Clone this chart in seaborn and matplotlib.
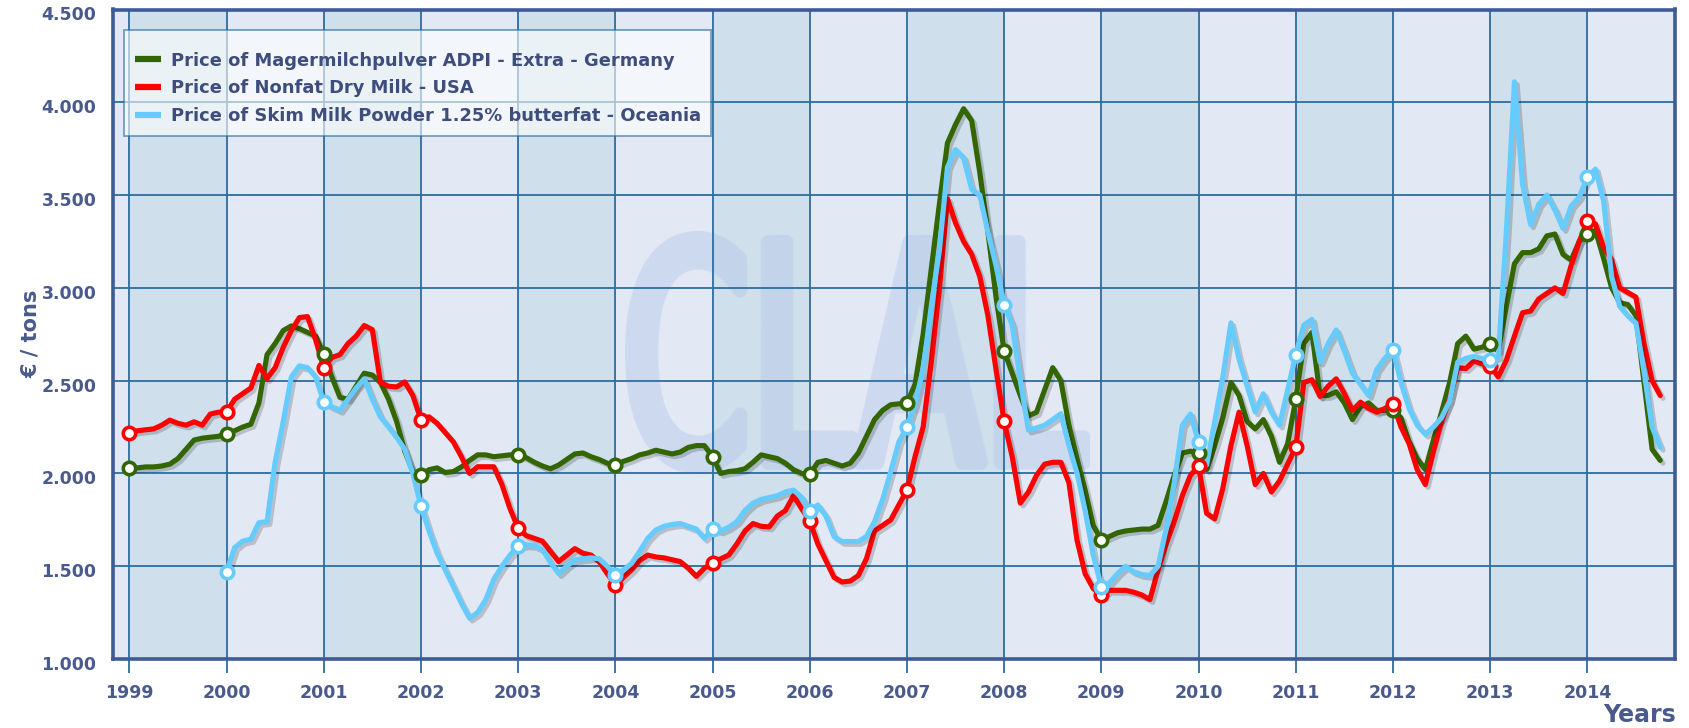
import numpy as np
import pandas as pd
import matplotlib
matplotlib.use("Agg")
import matplotlib.pyplot as plt
import matplotlib.patheffects as pe
from matplotlib.lines import Line2D
from matplotlib.textpath import TextPath
from matplotlib.patches import PathPatch
from matplotlib.font_manager import FontProperties
from matplotlib.transforms import Affine2D, ScaledTranslation
from matplotlib.colors import to_rgb
import seaborn as sns

# ---------------- data (monthly prices, EUR / ton) ----------------
series_names = [
    "Price of Magermilchpulver ADPI - Extra - Germany",
    "Price of Nonfat Dry Milk - USA",
    "Price of Skim Milk Powder 1.25% butterfat - Oceania",
]
series_colors = ["#336600", "#ff0000", "#66ccff"]

germany_start = 1999
germany = [
    2030, 2030, 2035, 2035, 2040, 2050, 2080, 2130, 2180, 2190, 2195, 2200,  # 1999
    2215, 2230, 2250, 2265, 2380, 2640, 2700, 2770, 2795, 2780, 2760, 2740,  # 2000
    2645, 2520, 2410, 2400, 2470, 2540, 2530, 2490, 2400, 2280, 2120, 2010,  # 2001
    1990, 2020, 2030, 2005, 2010, 2035, 2070, 2100, 2100, 2090, 2095, 2100,  # 2002
    2100, 2085, 2060, 2040, 2025, 2045, 2075, 2105, 2110, 2090, 2075, 2055,  # 2003
    2045, 2065, 2080, 2100, 2110, 2125, 2115, 2105, 2115, 2140, 2150, 2150,  # 2004
    2090, 2000, 2010, 2015, 2025, 2060, 2100, 2090, 2080, 2055, 2020, 2000,  # 2005
    1995, 2060, 2070, 2055, 2040, 2055, 2110, 2200, 2290, 2340, 2370, 2375,  # 2006
    2380, 2480, 2750, 3100, 3450, 3780, 3880, 3965, 3900, 3620, 3300, 2950,  # 2007
    2660, 2540, 2420, 2310, 2330, 2450, 2570, 2500, 2260, 2080, 1910, 1720,  # 2008
    1640, 1660, 1680, 1690, 1695, 1700, 1700, 1720, 1850, 1990, 2110, 2120,  # 2009
    2110, 2020, 2150, 2300, 2490, 2420, 2280, 2240, 2290, 2200, 2060, 2160,  # 2010
    2400, 2700, 2760, 2420, 2420, 2440, 2380, 2290, 2360, 2380, 2340, 2340,  # 2011
    2340, 2300, 2170, 2080, 2020, 2180, 2330, 2490, 2700, 2740, 2670, 2680,  # 2012
    2700, 2660, 2900, 3130, 3190, 3190, 3210, 3280, 3290, 3180, 3150, 3250,  # 2013
    3290, 3310, 3160, 3000, 2920, 2910, 2850, 2490, 2130, 2070,              # 2014
]

usa_start = 1999
usa = [
    2220, 2230, 2235, 2240, 2260, 2287, 2270, 2260, 2278, 2260, 2320, 2330,  # 1999
    2330, 2400, 2430, 2460, 2582, 2511, 2570, 2680, 2770, 2840, 2845, 2720,  # 2000
    2570, 2625, 2640, 2700, 2740, 2797, 2775, 2490, 2470, 2466, 2493, 2420,  # 2001
    2290, 2305, 2270, 2220, 2170, 2090, 2000, 2036, 2036, 2036, 1940, 1810,  # 2002
    1705, 1665, 1650, 1635, 1580, 1525, 1560, 1595, 1570, 1560, 1525, 1460,  # 2003
    1400, 1440, 1480, 1530, 1560, 1550, 1545, 1535, 1525, 1490, 1445, 1490,  # 2004
    1515, 1540, 1560, 1620, 1690, 1730, 1715, 1712, 1770, 1800, 1880, 1810,  # 2005
    1745, 1620, 1530, 1440, 1415, 1420, 1450, 1540, 1690, 1720, 1750, 1830,  # 2006
    1910, 2090, 2250, 2600, 2990, 3480, 3350, 3250, 3180, 3060, 2850, 2560,  # 2007
    2280, 2090, 1840, 1900, 1990, 2050, 2060, 2060, 1950, 1640, 1460, 1380,  # 2008
    1345, 1370, 1370, 1370, 1360, 1345, 1320, 1480, 1620, 1740, 1880, 1990,  # 2009
    2040, 1785, 1755, 1920, 2150, 2330, 2150, 1940, 2000, 1900, 1960, 2050,  # 2010
    2140, 2490, 2505, 2415, 2470, 2510, 2430, 2340, 2384, 2350, 2330, 2350,  # 2011
    2375, 2250, 2160, 2020, 1940, 2120, 2280, 2400, 2570, 2565, 2605, 2590,  # 2012
    2580, 2520, 2610, 2740, 2866, 2875, 2940, 2970, 3000, 2970, 3120, 3250,  # 2013
    3360, 3345, 3220, 3150, 3000, 2975, 2950, 2700, 2500, 2420,              # 2014
]

oceania_start = 2000
oceania = [
    1470, 1600, 1635, 1645, 1735, 1740, 2060, 2280, 2520, 2580, 2570, 2520,  # 2000
    2385, 2360, 2340, 2400, 2460, 2510, 2400, 2305, 2250, 2195, 2130, 2000,  # 2001
    1825, 1690, 1570, 1480, 1390, 1300, 1220, 1250, 1320, 1430, 1500, 1560,  # 2002
    1608, 1615, 1612, 1590, 1520, 1460, 1500, 1535, 1540, 1545, 1540, 1500,  # 2003
    1450, 1480, 1515, 1580, 1650, 1695, 1715, 1725, 1730, 1715, 1700, 1650,  # 2004
    1700, 1690, 1710, 1740, 1800, 1840, 1860, 1870, 1880, 1900, 1910, 1870,  # 2005
    1796, 1830, 1770, 1660, 1633, 1633, 1633, 1660, 1740, 1860, 2010, 2170,  # 2006
    2248, 2380, 2560, 2900, 3200, 3650, 3745, 3700, 3530, 3500, 3300, 3120,  # 2007
    2910, 2800, 2500, 2233, 2245, 2260, 2290, 2322, 2150, 2000, 1800, 1560,  # 2008
    1390, 1410, 1460, 1500, 1470, 1455, 1450, 1500, 1700, 1950, 2260, 2320,  # 2009
    2171, 2046, 2280, 2520, 2811, 2616, 2470, 2331, 2429, 2330, 2260, 2450,  # 2010
    2640, 2800, 2830, 2600, 2700, 2773, 2660, 2540, 2480, 2420, 2560, 2620,  # 2011
    2666, 2490, 2350, 2260, 2211, 2250, 2300, 2390, 2600, 2620, 2630, 2620,  # 2012
    2613, 2630, 3300, 4110, 3560, 3340, 3450, 3500, 3420, 3320, 3440, 3490,  # 2013
    3595, 3640, 3470, 3060, 2900, 2850, 2810, 2550, 2250, 2140,              # 2014
]

year_ticks = list(range(1999, 2015))
year_labels = [str(y) for y in year_ticks]
price_ticks = [1000, 1500, 2000, 2500, 3000, 3500, 4000, 4500]
price_labels = ["1.000", "1.500", "2.000", "2.500", "3.000", "3.500", "4.000", "4.500"]

# ---------------- build long table ----------------
def monthly(values, start, name):
    idx = np.arange(len(values))
    return pd.DataFrame({
        "year": start + idx / 12.0,
        "month": idx % 12,
        "price": values,
        "series": name,
    })

df = pd.concat([
    monthly(germany, germany_start, series_names[0]),
    monthly(usa, usa_start, series_names[1]),
    monthly(oceania, oceania_start, series_names[2]),
], ignore_index=True)

palette = dict(zip(series_names, series_colors))

# ---------------- style ----------------
sns.set_style("white")
plt.rcParams["font.family"] = ["DejaVu Sans"]

label_color = "#4a5a8c"
grid_color = "#2d6e9e"
frame_color = "#3d5a99"
band_dark = "#cfdfeb"
band_light = "#e2e9f4"

W, H = 1690, 728
ax_l, ax_r, ax_t, ax_b = 113, 1675, 9.5, 659
x0, x1 = 1998.832, 2014.902
y0, y1 = 1000, 4500

# ---- watermark mask rendered offscreen (single-pass alpha, no overlap) ----
wm_px = (625, 1089, 232, 474)  # left, right, top, bottom in figure pixels
wm_w, wm_h = wm_px[1] - wm_px[0], wm_px[3] - wm_px[2]
fig_wm = plt.figure(figsize=(wm_w / 100, wm_h / 100), dpi=100)
ax_wm = fig_wm.add_axes([0, 0, 1, 1])
ax_wm.set_xlim(0, wm_w)
ax_wm.set_ylim(0, wm_h)
ax_wm.axis("off")
tp = TextPath((0, 0), "CLAL", size=100, prop=FontProperties(family="DejaVu Sans", weight="normal"))
ext = tp.get_extents()
stroke_px = 14
tr = (Affine2D().translate(-ext.x0, -ext.y0)
      .scale((wm_w - stroke_px) / ext.width, (wm_h - stroke_px) / ext.height)
      .translate(stroke_px / 2, stroke_px / 2))
ax_wm.add_patch(PathPatch(tr.transform_path(tp), facecolor="black", edgecolor="black",
                          linewidth=stroke_px * 0.72, joinstyle="round"))
fig_wm.canvas.draw()
buf = np.asarray(fig_wm.canvas.buffer_rgba()).astype(float) / 255.0
plt.close(fig_wm)
mask = 1.0 - buf[..., 0]
wm_rgba = np.zeros(mask.shape + (4,))
wm_rgba[..., :3] = to_rgb("#b0c5ea")
wm_rgba[..., 3] = mask * 0.42

# ---------------- main figure ----------------
fig = plt.figure(figsize=(W / 100, H / 100), dpi=100)
fig.patch.set_facecolor("white")
ax = fig.add_axes([ax_l / W, (H - ax_b) / H, (ax_r - ax_l) / W, (ax_b - ax_t) / H])
ax.set_facecolor(band_light)

# alternating year bands
for i, y in enumerate(year_ticks):
    if i % 2 == 0:
        ax.axvspan(y, y + 1, color=band_dark, lw=0, zorder=0.1)

def px_to_x(px):
    return x0 + (px - ax_l) / (ax_r - ax_l) * (x1 - x0)

def py_to_y(py):
    return y0 + (ax_b - py) / (ax_b - ax_t) * (y1 - y0)

ax.imshow(wm_rgba, extent=[px_to_x(wm_px[0]), px_to_x(wm_px[1]), py_to_y(wm_px[3]), py_to_y(wm_px[2])],
          aspect="auto", interpolation="bilinear", zorder=0.3)

# grid
ax.set_axisbelow(True)
ax.grid(True, color=grid_color, linewidth=1.3)

# lines
sns.lineplot(data=df, x="year", y="price", hue="series", hue_order=series_names,
             palette=palette, linewidth=3.7, estimator=None, sort=False,
             legend=False, ax=ax)
for ln in ax.lines:
    ln.set_solid_capstyle("round")
    ln.set_solid_joinstyle("round")
    ln.set_path_effects([pe.SimpleLineShadow(offset=(2, -2), shadow_color="black", alpha=0.18),
                         pe.Normal()])

# January markers
jan = df[df["month"] == 0]
for name, col in zip(series_names, series_colors):
    sub = jan[jan["series"] == name]
    sns.scatterplot(data=sub, x="year", y="price", color="white", edgecolor=col,
                    linewidth=2.6, s=80, zorder=5, ax=ax, legend=False)

# axes styling
ax.set_xticks(year_ticks, labels=year_labels)
ax.set_yticks(price_ticks, labels=price_labels)
ax.set_xlim(x0, x1)
ax.set_ylim(y0, y1)
ax.tick_params(axis="x", length=10, width=1.3, color=grid_color, pad=8,
               labelsize=12.5, labelcolor=label_color, direction="out", bottom=True)
ax.tick_params(axis="y", length=0, pad=12, labelsize=12.5, labelcolor=label_color, left=True)
shift_down = ScaledTranslation(0, -4 / 100, fig.dpi_scale_trans)
for lbl in ax.get_xticklabels() + ax.get_yticklabels():
    lbl.set_fontweight("bold")
for lbl in ax.get_yticklabels():
    lbl.set_transform(lbl.get_transform() + shift_down)
for sp in ax.spines.values():
    sp.set_color(frame_color)
    sp.set_linewidth(2.6)
    sp.set_zorder(6)

ax.set_xlabel("")
ax.set_ylabel("€ / tons", fontsize=15, fontweight="bold", color=label_color)
ax.yaxis.set_label_coords(-0.046, 0.5)

fig.text(1676 / W, (H - 715) / H, "Years", ha="right", va="center",
         fontsize=17, fontweight="bold", color=label_color)

# legend
handles = [Line2D([0], [0], color=c, lw=4.5, solid_capstyle="butt") for c in series_colors]
leg = ax.legend(handles, series_names, loc="upper left",
                bbox_to_anchor=((124 - ax_l) / (ax_r - ax_l), (ax_b - 30) / (ax_b - ax_t)),
                borderaxespad=0, frameon=True, fancybox=False, framealpha=0.6,
                facecolor="white", edgecolor=grid_color,
                prop=FontProperties(family="DejaVu Sans", weight="bold", size=12.9),
                handlelength=1.45, handletextpad=0.55, labelspacing=0.55, borderpad=0.6,
                title=" ", title_fontsize=1)
leg.get_frame().set_linewidth(1.4)
for t in leg.get_texts():
    t.set_color("#3e4d7c")
leg.set_zorder(10)

fig.savefig("out.png", dpi=100, facecolor="white")
